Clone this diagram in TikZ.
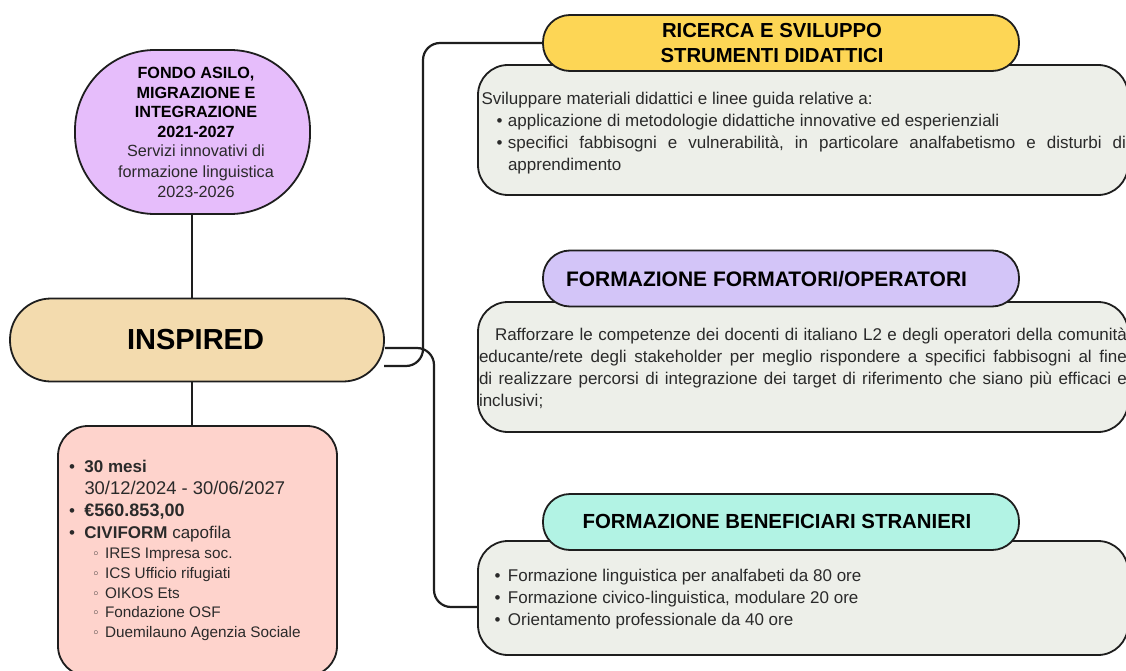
\documentclass[tikz,border=0pt]{standalone}
\usepackage{fontspec}
\setmainfont{Liberation Sans}
\newfontfamily\symfont{DejaVu Sans}
\definecolor{cpurple}{HTML}{E6BDFB}
\definecolor{csand}{HTML}{F3DBAE}
\definecolor{cpink}{HTML}{FED3CC}
\definecolor{cgrey}{HTML}{EDEFE9}
\definecolor{cyellow}{HTML}{FDD655}
\definecolor{clav}{HTML}{D3C5F8}
\definecolor{ccyan}{HTML}{B2F3E4}
\definecolor{cline}{HTML}{1E1E1E}
\definecolor{ctext}{HTML}{2A2A2A}
\newcommand{\fitline}[2]{\hbox to #1{#2}}
\newcommand{\partnerline}[1]{\hspace{23pt}\makebox[13pt][l]{\fontsize{13}{13}\symfont ◦}\fontsize{15.3}{22}\selectfont #1}
\tikzset{
  x=1pt,y=-1pt,
  shapebox/.style={draw=cline,line width=1.8pt,inner sep=0pt,outer sep=0pt},
  conn/.style={draw=cline,line width=2.2pt,rounded corners=17pt},
  stem/.style={draw=cline,line width=2.2pt},
  head/.style={shapebox,rounded corners=27pt,minimum width=476pt,minimum height=56pt},
  headtext/.style={inner sep=0pt,align=center,text=black},
  panel/.style={shapebox,rounded corners=30pt,fill=cgrey,minimum width=650pt},
  body/.style={anchor=north west,inner sep=0pt,outer sep=0pt,align=left,text=ctext,font=\fontsize{17}{22}\selectfont},
}
\begin{document}
\begin{tikzpicture}
\useasboundingbox (0,0) rectangle (1126,671);
\fill[white] (0,0) rectangle (1126,671);
% centre column
\draw[stem] (192,132) -- (192,551);
\node[shapebox,fill=cpurple,rounded corners=80pt,minimum width=235pt,minimum height=164pt] (fondo) at (192.5,132) {};
\node[inner sep=0pt,align=center,text=black,anchor=north,font=\fontsize{16.2}{19.5}\selectfont] (fondotxt) at (196,67) {\bfseries FONDO ASILO,\\\bfseries MIGRAZIONE E\\\bfseries INTEGRAZIONE\\\bfseries 2021-2027\\\mdseries\color{ctext}Servizi innovativi di\\[1pt]\mdseries\color{ctext}formazione linguistica\\[1pt]\mdseries\color{ctext}2023-2026};
\node[shapebox,fill=csand,rounded corners=41pt,minimum width=374pt,minimum height=83pt] (inspired) at (197,340) {};
\node[inner sep=0pt,font=\fontsize{29}{34}\selectfont\bfseries,text=black] (inspiredtxt) at (195.5,340) {INSPIRED};
\node[shapebox,fill=cpink,rounded corners=30pt,minimum width=279pt,minimum height=250pt] (info) at (197.5,551) {};
\node[body] (infotxt) at (69,460.5) {%
\textbullet\hspace{9.5pt}\textbf{30 mesi}\\
\hspace{15.5pt}\fontsize{18.4}{22}\selectfont 30/12/2024 - 30/06/2027\\
\textbullet\hspace{9.5pt}\fontsize{18}{22}\selectfont\textbf{€560.853,00}\\
\textbullet\hspace{9.5pt}\textbf{CIVIFORM} capofila\\[-2pt]
\partnerline{IRES Impresa soc.}\\[-2pt]
\partnerline{ICS Ufficio rifugiati}\\[-2.5pt]
\partnerline{OIKOS Ets}\\[-2.5pt]
\partnerline{Fondazione OSF}\\[-2pt]
\partnerline{Duemilauno Agenzia Sociale}};
% panels
\node[panel,minimum height=130pt,anchor=north west] (p1) at (478,65) {};
\node[panel,minimum height=130pt,anchor=north west] (p2) at (478,302) {};
\node[panel,minimum height=114pt,anchor=north west] (p3) at (478,541) {};
\node[head,fill=cyellow] (h1) at (781,43) {};
\node[head,fill=clav] (h2) at (781,278.5) {};
\node[head,fill=ccyan] (h3) at (781,522) {};
\node[headtext,font=\fontsize{20.3}{25.5}\selectfont\bfseries] (h1t) at (772,43) {RICERCA E SVILUPPO\\STRUMENTI DIDATTICI};
\node[headtext,font=\fontsize{21}{25}\selectfont\bfseries] (h2t) at (766.5,279) {FORMAZIONE FORMATORI/OPERATORI};
\node[headtext,font=\fontsize{20.4}{25}\selectfont\bfseries] (h3t) at (777,521) {FORMAZIONE BENEFICIARI STRANIERI};
% connectors
\coordinate (a1) at (384,366);
\coordinate (a2) at (385,348);
\draw[conn] (a1) -- (423,366) -- (423,43) -- (h1.west);
\draw[conn] (a2) -- (434,348) -- (434,607) -- (p3.west |- 478,607);
% panel text
\node[body] (t1) at (481.5,92) {Sviluppare materiali didattici e linee guida relative a:\\
\hspace{15pt}\textbullet\hspace{5.5pt}applicazione di metodologie didattiche innovative ed esperienziali\\
\hspace{15pt}\textbullet\hspace{5.5pt}\hbox to 618pt{specifici\hfil fabbisogni\hfil e\hfil vulnerabilità,\hfil in\hfil particolare\hfil analfabetismo\hfil e\hfil disturbi\hfil di}\\
\hspace{26.5pt}apprendimento};
\node[body] (t2) at (479,328) {\fitline{648pt}{\hspace{16pt}Rafforzare\hfil le\hfil competenze\hfil dei\hfil docenti\hfil di\hfil italiano\hfil L2\hfil e\hfil degli\hfil operatori\hfil della\hfil comunità}\\
\fitline{648pt}{educante/rete\hfil degli\hfil stakeholder\hfil per\hfil meglio\hfil rispondere\hfil a\hfil specifici\hfil fabbisogni\hfil al\hfil fine}\\
\fitline{648pt}{di\hfil realizzare\hfil percorsi\hfil di\hfil integrazione\hfil dei\hfil target\hfil di\hfil riferimento\hfil che\hfil siano\hfil più\hfil efficaci\hfil e}\\
inclusivi;};
\node[body] (t3) at (494.5,569) {\textbullet\hspace{7.5pt}Formazione linguistica per analfabeti da 80 ore\\
\textbullet\hspace{7.5pt}Formazione civico-linguistica, modulare 20 ore\\
\textbullet\hspace{7.5pt}Orientamento professionale da 40 ore};
\end{tikzpicture}
\end{document}
